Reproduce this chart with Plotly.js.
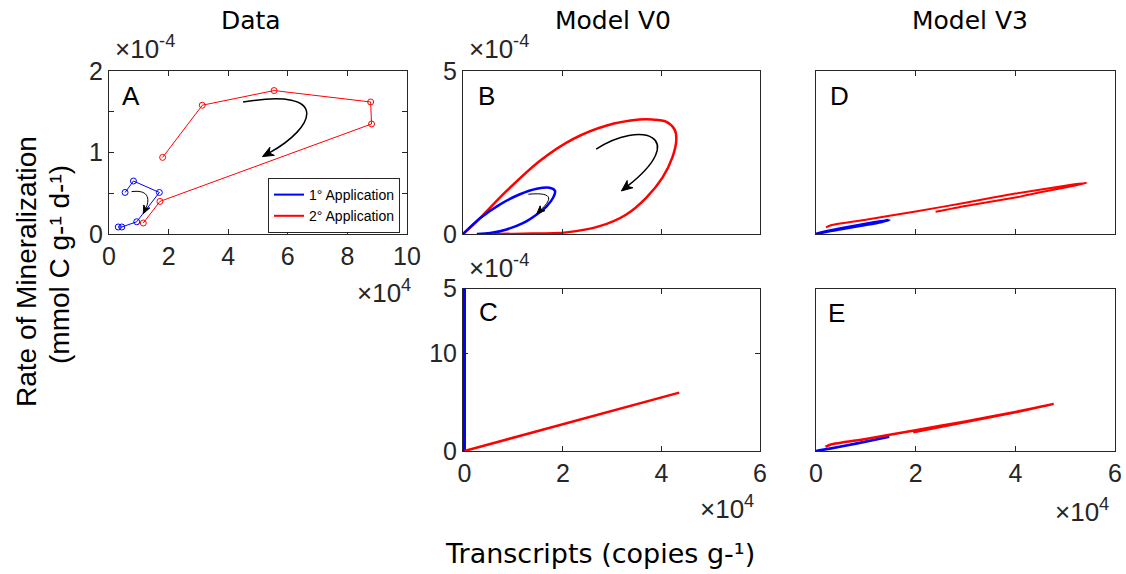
<!DOCTYPE html>
<html>
<head>
<meta charset="utf-8">
<script src="https://cdn.plot.ly/plotly-3.0.1.min.js"></script>
<style>html,body{margin:0;padding:0;background:#fff;}#chart{width:1126px;height:574px;}</style>
</head>
<body>
<div id="chart"></div>
<script>
// ---- Data (x in units of 1e4 copies/g, y in units of 1e-4 mmol C/g/d) ----
// Panel A: measured data
var dataA_app1_x = [0.54, 0.82, 1.69, 0.93, 0.43, 0.31];
var dataA_app1_y = [0.51, 0.65, 0.51, 0.15, 0.086, 0.086];
var dataA_app2_x = [1.80, 3.13, 5.54, 8.78, 8.81, 1.71, 1.15];
var dataA_app2_y = [0.94, 1.58, 1.76, 1.62, 1.35, 0.40, 0.135];
// Panel B: Model V0, first row
var modelB_app1_x = [0, 0.35, 0.75, 1.15, 1.49, 1.75, 1.86, 1.82, 1.69, 1.49, 1.22, 0.88, 0.55, 0.28];
var modelB_app1_y = [0, 0.49, 0.91, 1.22, 1.39, 1.42, 1.32, 1.11, 0.85, 0.60, 0.34, 0.14, 0.03, 0];
var modelB_app2_x = [0, 0.28, 0.88, 1.55, 2.22, 2.89, 3.56, 3.83, 4.10, 4.27, 4.31, 4.23, 4.03, 3.70, 3.30, 2.76, 2.09, 1.22, 0.62];
var modelB_app2_y = [0, 0.39, 1.32, 2.24, 2.91, 3.32, 3.51, 3.51, 3.45, 3.22, 2.91, 2.35, 1.73, 1.11, 0.60, 0.24, 0.05, 0.01, 0];
// Panel C: Model V0, second row
var modelC_app1_x = [0, 0];
var modelC_app1_y = [0, 20];
var modelC_app2_x = [0, 2, 4.36];
var modelC_app2_y = [0, 2.75, 6.0];
// Panel D: Model V3, first row
var modelD_app1_x = [0, 0.1, 0.5, 1.0, 1.47, 1.3, 0.9, 0.5, 0.2, 0.05];
var modelD_app1_y = [0, 0.04, 0.17, 0.31, 0.43, 0.37, 0.26, 0.15, 0.07, 0.02];
var modelD_app2_x = [0.2, 0.3, 1.0, 2.0, 3.0, 4.0, 5.0, 5.43, 5.2, 4.5, 4.0, 3.0, 2.4];
var modelD_app2_y = [0.2, 0.27, 0.44, 0.69, 0.96, 1.24, 1.48, 1.57, 1.49, 1.28, 1.12, 0.86, 0.68];
// Panel E: Model V3, second row
var modelE_app1_x = [0, 0.1, 0.5, 1.0, 1.47, 1.3, 0.8, 0.3, 0.05];
var modelE_app1_y = [0, 0.03, 0.14, 0.29, 0.44, 0.38, 0.22, 0.08, 0.01];
var modelE_app2_x = [0.19, 0.3, 1.0, 2.0, 3.0, 4.0, 4.77, 4.5, 4.0, 3.0, 1.95];
var modelE_app2_y = [0.13, 0.2, 0.37, 0.64, 0.91, 1.2, 1.45, 1.36, 1.19, 0.89, 0.58];

var seriesNames = ['1° Application', '2° Application'];
var panelTitles = ['Data', 'Model V0', 'Model V3'];
var panelLetters = ['A', 'B', 'C', 'D', 'E'];
var xTicksA = [0, 2, 4, 6, 8, 10];
var yTicksA = [0, 1, 2];
var yMinorTicksA = [0.5, 1.5];
var xTicksModel = [0, 2, 4, 6];
var yTicksC = [0, 10, 16.7];
var yTickTextC = ['0', '10', '5'];

// ---- styling ----
var BLUE = 'rgb(0,0,255)', RED = 'rgb(255,0,0)', AX = '#262626';
var W = 1126, H = 574;
function px(x) { return x / W; }
function py(y) { return 1 - y / H; }
var tickFont = {family: 'Liberation Sans, Arial, sans-serif', size: 25, color: AX};

var traces = [
  {x: dataA_app1_x, y: dataA_app1_y, xaxis: 'x', yaxis: 'y', mode: 'lines+markers', showlegend: false,
   line: {color: BLUE, width: 1}, marker: {symbol: 'circle-open', size: 6, color: BLUE, line: {width: 1}}},
  {x: dataA_app2_x, y: dataA_app2_y, xaxis: 'x', yaxis: 'y', mode: 'lines+markers', showlegend: false,
   line: {color: RED, width: 1}, marker: {symbol: 'circle-open', size: 6, color: RED, line: {width: 1}}},
  {x: [null], y: [null], xaxis: 'x', yaxis: 'y', mode: 'lines', name: seriesNames[0], line: {color: BLUE, width: 2}},
  {x: [null], y: [null], xaxis: 'x', yaxis: 'y', mode: 'lines', name: seriesNames[1], line: {color: RED, width: 2}},
  {x: modelB_app2_x, y: modelB_app2_y, xaxis: 'x2', yaxis: 'y2', mode: 'lines', showlegend: false,
   line: {color: RED, width: 2.5, shape: 'spline', smoothing: 0.8}},
  {x: modelB_app1_x, y: modelB_app1_y, xaxis: 'x2', yaxis: 'y2', mode: 'lines', showlegend: false,
   line: {color: BLUE, width: 2.5, shape: 'spline', smoothing: 0.8}},
  {x: modelC_app1_x, y: modelC_app1_y, xaxis: 'x3', yaxis: 'y3', mode: 'lines', showlegend: false,
   line: {color: BLUE, width: 3}},
  {x: modelC_app2_x, y: modelC_app2_y, xaxis: 'x3', yaxis: 'y3', mode: 'lines', showlegend: false,
   line: {color: RED, width: 2.5}},
  {x: modelD_app1_x, y: modelD_app1_y, xaxis: 'x4', yaxis: 'y4', mode: 'lines', showlegend: false,
   line: {color: BLUE, width: 3, shape: 'spline', smoothing: 0.6}},
  {x: modelD_app2_x, y: modelD_app2_y, xaxis: 'x4', yaxis: 'y4', mode: 'lines', showlegend: false,
   line: {color: RED, width: 2, shape: 'spline', smoothing: 0.6}},
  {x: modelE_app1_x, y: modelE_app1_y, xaxis: 'x5', yaxis: 'y5', mode: 'lines', showlegend: false,
   line: {color: BLUE, width: 2.5, shape: 'spline', smoothing: 0.6}},
  {x: modelE_app2_x, y: modelE_app2_y, xaxis: 'x5', yaxis: 'y5', mode: 'lines', showlegend: false,
   line: {color: RED, width: 2.5, shape: 'spline', smoothing: 0.6}}
];

function ax(extra) {
  var base = {showline: true, mirror: 'ticks', linecolor: AX, linewidth: 1, ticks: 'inside', ticklen: 5,
    tickcolor: AX, tickwidth: 1, showgrid: false, zeroline: false, tickfont: tickFont, fixedrange: true};
  for (var k in extra) base[k] = extra[k];
  return base;
}
var pxA = [109, 407], pyTop = [234, 71];
var pxB = [463, 760], pxD = [816, 1115], pyBot = [451, 288.5];
var xdomA = [px(pxA[0]), px(pxA[1])], ydomTop = [py(pyTop[0]), py(pyTop[1])];
var xdomB = [px(pxB[0]), px(pxB[1])], xdomD = [px(pxD[0]), px(pxD[1])], ydomBot = [py(pyBot[0]), py(pyBot[1])];

var titleFont = {family: 'DejaVu Sans, Verdana, sans-serif', size: 25, color: '#000'};
var letterFont = {family: 'Liberation Sans, Arial, sans-serif', size: 26, color: '#000'};
var multFont = {family: 'Liberation Sans, Arial, sans-serif', size: 26, color: AX};
var labelFont = {family: 'Liberation Sans, Arial, sans-serif', size: 28, color: '#000'};

function paperText(text, x, y, font, extra) {
  var a = {text: text, xref: 'paper', yref: 'paper', x: px(x), y: py(y), xanchor: 'center', yanchor: 'middle',
    showarrow: false, font: font};
  for (var k in extra) a[k] = extra[k];
  return a;
}

var annotations = [
  paperText(panelTitles[0], 251, 20, titleFont),
  paperText(panelTitles[1], 613, 20, titleFont),
  paperText(panelTitles[2], 970, 20, titleFont),
  paperText(panelLetters[0], 130.5, 96, letterFont),
  paperText(panelLetters[1], 486, 96, letterFont),
  paperText(panelLetters[2], 488, 312, letterFont),
  paperText(panelLetters[3], 839, 96, letterFont),
  paperText(panelLetters[4], 836, 313, letterFont),
  paperText('×10<sup>-4</sup>', 145, 48, multFont),
  paperText('×10<sup>-4</sup>', 499, 48, multFont),
  paperText('×10<sup>-4</sup>', 499, 266, multFont),
  paperText('×10<sup>4</sup>', 384, 291, multFont),
  paperText('×10<sup>4</sup>', 727, 508, multFont),
  paperText('×10<sup>4</sup>', 1082, 510, multFont),
  paperText('Transcripts (copies g-¹)', 600, 553, {family: 'DejaVu Sans, Verdana, sans-serif', size: 27, color: '#000'}),
  paperText('Rate of Mineralization', 26, 272, labelFont, {textangle: -90}),
  paperText('(mmol C g-¹ d-¹)', 59, 265, labelFont, {textangle: -90})
];

// curved direction arrows (decoration): [xref, yref, start, c1, c2, tip, width, head length px, x px/unit, y px/unit]
var sxA = (pxA[1] - pxA[0]) / 10, syA = (pyTop[0] - pyTop[1]) / 2;
var sxB = (pxB[1] - pxB[0]) / 6, syB = (pyTop[0] - pyTop[1]) / 5;
var arrows = [
  ['x', 'y', [4.5, 1.62], [7.5, 1.8], [6.9, 1.3], [5.15, 0.95], 1.5, 11, sxA, syA],
  ['x', 'y', [0.76, 0.52], [1.4, 0.55], [1.35, 0.4], [1.15, 0.25], 1, 8, sxA, syA],
  ['x2', 'y2', [2.69, 2.6], [3.6, 3.5], [4.6, 3.0], [3.2, 1.32], 1.5, 11, sxB, syB],
  ['x2', 'y2', [1.32, 1.22], [1.9, 1.3], [1.75, 1.0], [1.49, 0.62], 1, 8, sxB, syB]
];
var shapes = [];
arrows.forEach(function (a) {
  var s = a[2], c1 = a[3], c2 = a[4], t = a[5], sx = a[8], sy = a[9], len = a[7];
  var dx = (t[0] - c2[0]) * sx, dy = (t[1] - c2[1]) * sy;
  var n = Math.sqrt(dx * dx + dy * dy); dx /= n; dy /= n;
  var hw = len * 0.42;
  var bx = -dx * len, by = -dy * len;              // back from tip (px)
  var p1 = [t[0] + (bx - dy * hw) / sx, t[1] + (by + dx * hw) / sy];
  var p2 = [t[0] + (bx + dy * hw) / sx, t[1] + (by - dx * hw) / sy];
  var nt = [t[0] + bx * 0.7 / sx, t[1] + by * 0.7 / sy];
  shapes.push({type: 'path', xref: a[0], yref: a[1], layer: 'above',
    path: 'M ' + s[0] + ' ' + s[1] + ' C ' + c1[0] + ' ' + c1[1] + ', ' + c2[0] + ' ' + c2[1] + ', ' + nt[0] + ' ' + nt[1],
    line: {color: '#000', width: a[6]}});
  shapes.push({type: 'path', xref: a[0], yref: a[1], layer: 'above',
    path: 'M ' + t[0] + ' ' + t[1] + ' L ' + p1[0] + ' ' + p1[1] + ' L ' + nt[0] + ' ' + nt[1] + ' L ' + p2[0] + ' ' + p2[1] + ' Z',
    fillcolor: '#000', line: {color: '#000', width: 1}});
});

var layout = {
  width: W, height: H, margin: {l: 0, r: 0, t: 0, b: 0}, paper_bgcolor: '#fff', plot_bgcolor: '#fff',
  showlegend: true,
  legend: {x: px(268), y: py(178), xanchor: 'left', yanchor: 'top', bgcolor: '#fff', bordercolor: AX, borderwidth: 1,
    font: {family: 'Liberation Sans, Arial, sans-serif', size: 14, color: '#000'}, tracegroupgap: 0, itemwidth: 30},
  xaxis: ax({domain: xdomA, range: [0, 10], tickvals: xTicksA, anchor: 'y'}),
  yaxis: ax({domain: ydomTop, range: [0, 2], tickvals: yTicksA, anchor: 'x',
    minor: {tickvals: yMinorTicksA, ticks: 'inside', ticklen: 5, tickcolor: AX, tickwidth: 1, showgrid: false}}),
  xaxis2: ax({domain: xdomB, range: [0, 6], tickvals: xTicksModel, showticklabels: false, anchor: 'y2'}),
  yaxis2: ax({domain: ydomTop, range: [0, 5], tickvals: [0, 5], anchor: 'x2'}),
  xaxis3: ax({domain: xdomB, range: [-0.03, 6], tickvals: xTicksModel, anchor: 'y3', layer: 'below traces'}),
  yaxis3: ax({domain: ydomBot, range: [0, 16.7], tickvals: yTicksC, ticktext: yTickTextC, anchor: 'x3', layer: 'below traces'}),
  xaxis4: ax({domain: xdomD, range: [0, 6], tickvals: xTicksModel, showticklabels: false, anchor: 'y4'}),
  yaxis4: ax({domain: ydomTop, range: [0, 5], tickvals: [], showticklabels: false, anchor: 'x4'}),
  xaxis5: ax({domain: xdomD, range: [0, 6], tickvals: xTicksModel, anchor: 'y5'}),
  yaxis5: ax({domain: ydomBot, range: [0, 5], tickvals: [], showticklabels: false, anchor: 'x5'}),
  annotations: annotations,
  shapes: shapes
};

Plotly.newPlot('chart', traces, layout, {displayModeBar: false, staticPlot: true});
</script>
</body>
</html>
